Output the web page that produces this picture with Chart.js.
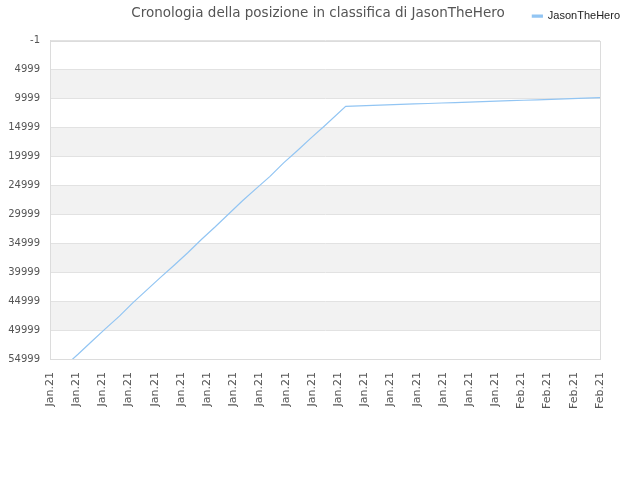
<!DOCTYPE html>
<html>
<head>
<meta charset="utf-8">
<script src="https://cdn.jsdelivr.net/npm/chart.js@4/dist/chart.umd.min.js"></script>
<style>
html,body{margin:0;padding:0;background:#fff;}
#wrap{width:640px;height:480px;}
</style>
</head>
<body>
<div id="wrap"><canvas id="c" width="640" height="480"></canvas></div>
<script>
const chartTitle = 'Cronologia della posizione in classifica di JasonTheHero';
const seriesName = 'JasonTheHero';
const tickLabels = ['Jan.21','Jan.21','Jan.21','Jan.21','Jan.21','Jan.21','Jan.21','Jan.21','Jan.21','Jan.21','Jan.21','Jan.21','Jan.21','Jan.21','Jan.21','Jan.21','Jan.21','Jan.21','Feb.21','Feb.21','Feb.21','Feb.21'];
const pointTimes = [0,0.55,1.08,1.60,2.12,2.65,3.17,3.69,4.22,4.74,5.26,5.79,6.31,6.83,7.35,7.88,8.40,8.92,9.45,9.97,10.50,11.29,11.81,12.33,12.86,13.38,13.90,14.43,14.95,15.47,16.00,16.52,17.04,17.57,18.09,18.61,19.14,19.66,20.18,20.71,21.00];
const ranks = [58450,56290,54140,51930,49740,47590,45260,43100,40900,38790,36640,34310,32160,29910,27670,25520,23450,21120,18970,16810,14660,11345,11260,11180,11100,11020,10940,10860,10780,10700,10620,10540,10460,10380,10300,10220,10140,10060,9980,9900,9860];
const yMin = -1, yMax = 54999, yStep = 5000;

const points = pointTimes.map((t, i) => ({x: t, y: ranks[i]}));

const bandsPlugin = {
  id: 'bands',
  beforeDraw(chart) {
    const {ctx, chartArea: a, scales: {y}} = chart;
    ctx.save();
    ctx.fillStyle = '#fff';
    ctx.fillRect(0, 0, chart.width, chart.height);
    ctx.fillStyle = '#f2f2f2';
    const t = y.ticks;
    for (let i = 0; i < t.length - 1; i++) {
      if (i % 2 === 1) {
        const y1 = y.getPixelForValue(t[i].value);
        const y2 = y.getPixelForValue(t[i + 1].value);
        ctx.fillRect(a.left, Math.min(y1, y2), a.right - a.left, Math.abs(y2 - y1));
      }
    }
    ctx.restore();
  },
  beforeDatasetsDraw(chart) {
    const {ctx, chartArea: a} = chart;
    ctx.save();
    ctx.strokeStyle = '#dcdcdc';
    ctx.lineWidth = 1;
    ctx.strokeRect(Math.round(a.left) + 0.5, Math.round(a.top) + 0.5, Math.round(a.right - a.left), Math.round(a.bottom - a.top));
    ctx.restore();
  }
};

const legendTweak = {
  id: 'legendTweak',
  beforeInit(chart) {
    const lg = chart.legend;
    const origFit = lg.fit;
    lg.fit = function () {
      origFit.call(this);
      this.height += 9;
    };
    const origDraw = lg.draw;
    lg.draw = function () {
      const ctx = this.ctx;
      ctx.save();
      ctx.translate(-12, 0);
      origDraw.apply(this, arguments);
      ctx.restore();
    };
  }
};

new Chart(document.getElementById('c'), {
  type: 'line',
  data: {
    datasets: [{
      label: seriesName,
      data: points,
      borderColor: '#92c5f3',
      backgroundColor: '#92c5f3',
      borderWidth: 1.2,
      pointRadius: 0,
      tension: 0,
      fill: false
    }]
  },
  options: {
    responsive: false,
    animation: false,
    layout: {padding: {left: 0, right: 4, top: 0, bottom: 58}},
    plugins: {
      title: {
        display: true,
        text: chartTitle,
        color: '#555',
        font: {family: 'DejaVu Sans', size: 13.5, weight: 'normal'},
        padding: {top: 5, bottom: -14.6}
      },
      legend: {
        display: true,
        position: 'top',
        align: 'end',
        labels: {
          color: '#222',
          font: {family: 'Liberation Sans', size: 11},
          boxWidth: 10,
          boxHeight: 2,
          padding: 4
        }
      },
      tooltip: {enabled: false}
    },
    scales: {
      x: {
        type: 'linear',
        min: 0,
        max: tickLabels.length - 1,
        afterBuildTicks(axis) {
          axis.ticks = tickLabels.map((_, i) => ({value: i}));
        },
        ticks: {
          autoSkip: false,
          maxRotation: 90,
          minRotation: 90,
          padding: 13,
          color: '#555',
          font: {family: 'DejaVu Sans', size: 11},
          callback: (v) => tickLabels[v]
        },
        grid: {display: false, drawTicks: false},
        border: {display: true, color: '#dcdcdc'}
      },
      y: {
        reverse: true,
        min: yMin,
        max: yMax,
        afterBuildTicks(axis) {
          const t = [];
          for (let v = yMin; v <= yMax; v += yStep) t.push({value: v});
          axis.ticks = t;
        },
        afterFit(axis) { axis.width = 50; },
        ticks: {
          color: '#555',
          padding: 10,
          font: {family: 'DejaVu Sans', size: 10},
          callback: (v) => String(v)
        },
        grid: {color: '#e2e2e2', drawTicks: false},
        border: {display: true, color: '#dcdcdc'}
      },
      yRight: {
        type: 'linear',
        position: 'right',
        display: true,
        afterFit(axis) { axis.width = 36; },
        ticks: {display: false},
        grid: {display: false, drawTicks: false},
        border: {display: false}
      }
    }
  },
  plugins: [bandsPlugin, legendTweak]
});
</script>
</body>
</html>
